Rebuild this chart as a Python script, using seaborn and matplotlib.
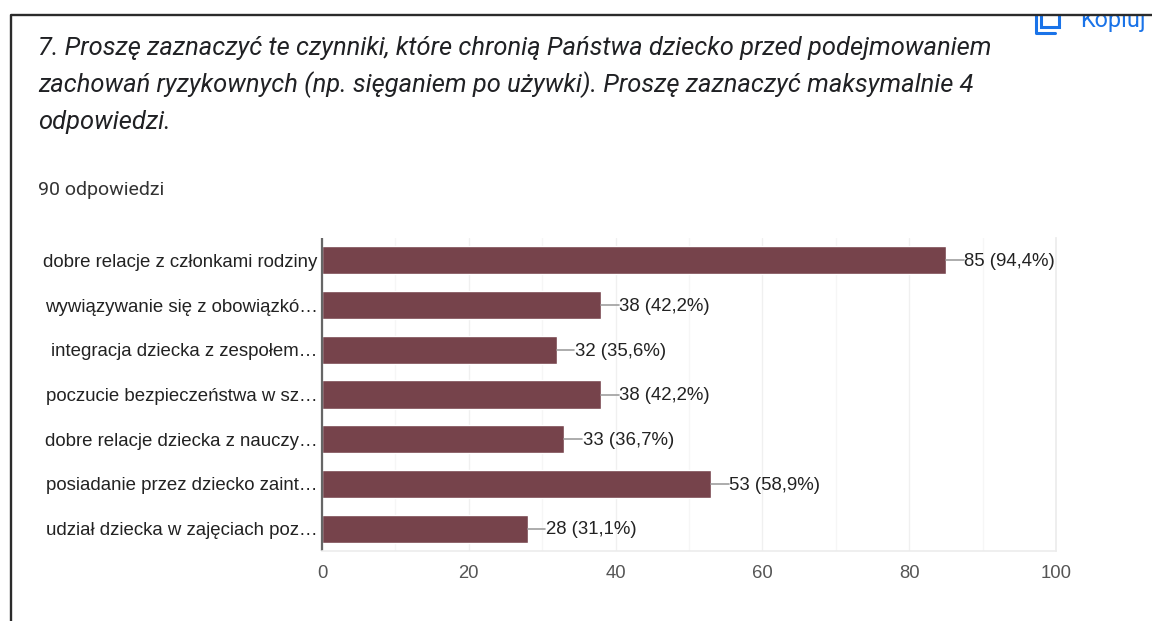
import matplotlib
matplotlib.use("Agg")
import matplotlib.pyplot as plt
import seaborn as sns
import pandas as pd
from matplotlib.lines import Line2D
from matplotlib.patches import Rectangle

title_lines = [
    "7. Proszę zaznaczyć te czynniki, które chronią Państwa dziecko przed podejmowaniem",
    "zachowań ryzykownych (np. sięganiem po używki). Proszę zaznaczyć maksymalnie 4",
    "odpowiedzi.",
]
subtitle = "90 odpowiedzi"
categories = [
    "dobre relacje z członkami rodziny",
    "wywiązywanie się z obowiązkó…",
    "integracja dziecka z zespołem…",
    "poczucie bezpieczeństwa w sz…",
    "dobre relacje dziecka z nauczy…",
    "posiadanie przez dziecko zaint…",
    "udział dziecka w zajęciach poz…",
]
counts = [85, 38, 32, 38, 33, 53, 28]
percents = ["94,4%", "42,2%", "35,6%", "42,2%", "36,7%", "58,9%", "31,1%"]
major_ticks = [0, 20, 40, 60, 80, 100]
minor_ticks = [10, 30, 50, 70, 90]

W, H = 1152, 621
sns.set_theme(style="white")
plt.rcParams["font.family"] = ["Liberation Sans", "DejaVu Sans"]

fig = plt.figure(figsize=(W / 100, H / 100), dpi=100, facecolor="white")
ax = fig.add_axes([322 / W, 1 - 551 / H, (1056 - 322) / W, (551 - 238) / H])

df = pd.DataFrame({"kategoria": categories, "liczba": counts})
sns.barplot(data=df, y="kategoria", x="liczba", color="#76434b", saturation=1,
            width=0.63, ax=ax)

ax.set_xlim(0, 100)
ax.set_ylim(6.5, -0.5)
ax.set_xlabel("")
ax.set_ylabel("")
ax.set_xticks(major_ticks)
ax.set_xticks(minor_ticks, minor=True)
ax.grid(True, axis="x", which="major", color="#f0f0f0", lw=1.0)
ax.grid(True, axis="x", which="minor", color="#f6f6f6", lw=1.0)
ax.grid(False, axis="y")
ax.set_axisbelow(True)
ax.spines["top"].set_visible(False)
ax.spines["right"].set_color("#ececec")
ax.spines["bottom"].set_color("#ececec")
ax.spines["bottom"].set_linewidth(1.2)
ax.spines["left"].set_color("#666666")
ax.spines["left"].set_linewidth(1.6)
ax.spines["left"].set_capstyle("butt")
ax.tick_params(axis="x", which="both", length=0, pad=10, labelsize=13.3, labelcolor="#555555")
ax.tick_params(axis="y", length=0, pad=3, labelsize=13.4, labelcolor="#222222")

# etykiety z linia prowadzaca
for i, (c, p) in enumerate(zip(counts, percents)):
    ax.plot([c, c + 2.4], [i, i], color="#9e9e9e", lw=1.2, clip_on=False)
    ax.text(c + 2.5, i + 0.03, f"{c} ({p})", va="center", ha="left", fontsize=13.4, color="#222222")

# tytul
for i, line in enumerate(title_lines):
    fig.text(38 / W, 1 - (48 + i * 37) / H, line, family="Roboto", style="italic",
             fontsize=18.4, color="#202124", va="center", ha="left")
fig.text(38 / W, 1 - 190 / H, subtitle, family="Roboto", fontsize=14, color="#333333",
         va="center", ha="left")

# przycisk Kopiuj, uciety od gory
fig.text(1080 / W, 1 - 27 / H, "Kopiuj", family="Roboto", fontsize=16.8, color="#1a73e8",
         va="baseline", ha="left")
fig.add_artist(Rectangle((1041 / W, 1 - 27 / H), 18 / W, 16 / H, fill=False,
                         ec="#1a73e8", lw=2.2, transform=fig.transFigure))
fig.add_artist(Line2D([1035.5 / W, 1035.5 / W, 1055 / W], [1 - 14 / H, 1 - 33 / H, 1 - 33 / H],
                      color="#1a73e8", lw=2.2, transform=fig.transFigure))
fig.add_artist(Rectangle((960 / W, 1 - 15 / H), 192 / W, 15 / H, fc="white", ec="none",
                         transform=fig.transFigure, zorder=5))

# ramka
fig.add_artist(Line2D([10.5 / W, 10.5 / W, 1], [0, 1 - 15 / H, 1 - 15 / H], color="#2b2b2b",
                      lw=1.7, transform=fig.transFigure, zorder=6))

fig.savefig("out.png", dpi=100)
